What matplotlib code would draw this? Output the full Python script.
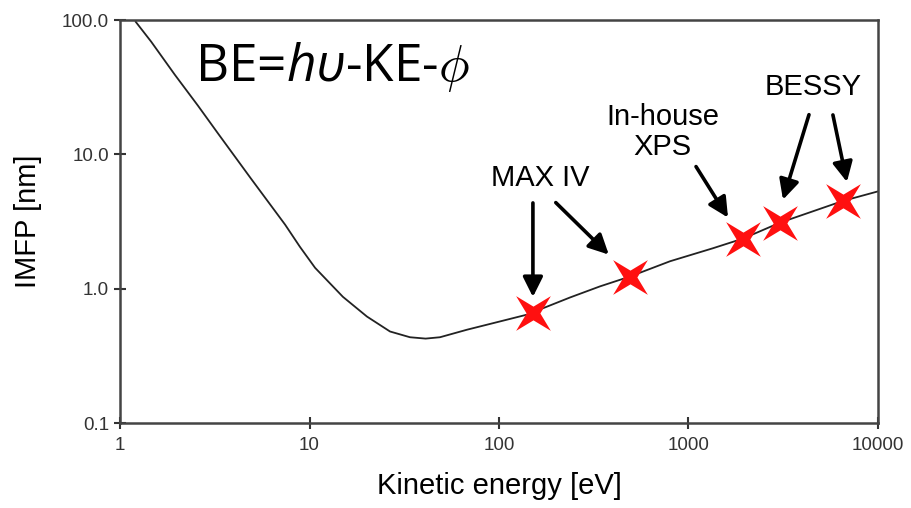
import numpy as np
import matplotlib.pyplot as plt
from matplotlib.path import Path
from matplotlib.transforms import Affine2D, offset_copy

# curva IMFP
ke_curve = [1.21, 1.46, 1.95, 2.58, 3.29, 4.91, 7.43, 8.9, 10.7, 15.0, 20.1, 26.6,
            33.9, 41, 48.8, 67.8, 101, 140, 237, 341, 490, 799, 1346, 1940, 3040, 6530, 10000]
imfp_curve = [97, 69, 39, 23, 14.3, 6.6, 3.0, 2.05, 1.43, 0.87, 0.62, 0.48,
              0.435, 0.425, 0.435, 0.495, 0.57, 0.64, 0.86, 1.04, 1.23, 1.6, 2.0, 2.36, 3.1, 4.5, 5.3]

# puntos marcados (estrellas)
ke_stars = [151, 490, 1940, 3040, 6530]
imfp_stars = [0.66, 1.23, 2.36, 3.1, 4.5]

xticks = [1, 10, 100, 1000, 10000]
xtick_labels = ['1', '10', '100', '1000', '10000']
yticks = [0.1, 1, 10, 100]
ytick_labels = ['0.1', '1.0', '10.0', '100.0']

# flechas: (indice estrella, punta dx, dy, cola dx, dy) en pixeles
arrows = [(0, 0, 16, 0, 110),
          (1, -21, 22, -74, 74),
          (2, -15, 21, -47, 72),
          (3, 3, 23, 29, 108),
          (4, 4, 19, -10, 86)]

plt.rcParams['font.family'] = ['Liberation Sans', 'DejaVu Sans']
plt.rcParams['mathtext.fontset'] = 'custom'
plt.rcParams['mathtext.rm'] = 'Open Sans'
plt.rcParams['mathtext.it'] = 'Open Sans:italic'

fig = plt.figure(figsize=(9.12, 5.08), dpi=100)
ax = fig.add_axes([0.1316, 0.1673, 0.8311, 0.7933])

ax.plot(ke_curve, imfp_curve, color='#222222', lw=1.3)

star = Path.unit_regular_star(4, innerCircle=0.28).transformed(Affine2D().rotate_deg(45))
ax.plot(ke_stars, imfp_stars, linestyle='none', marker=star, markersize=25,
        color='#ff1010', markeredgewidth=0, zorder=4)

ax.set_xscale('log')
ax.set_yscale('log')
ax.set_xlim(1, 10000)
ax.set_ylim(0.1, 100)
ax.set_xticks(xticks)
ax.set_xticklabels(xtick_labels)
ax.set_yticks(yticks)
ax.set_yticklabels(ytick_labels)
ax.minorticks_off()
ax.tick_params(direction='inout', length=8, width=1.5, color='#333333',
               labelsize=13.5, labelcolor='#333333', pad=6)
ax.tick_params(axis='y', pad=4)
for s in ax.spines.values():
    s.set_color('#444444')
    s.set_linewidth(1.8)

ax.set_xlabel('Kinetic energy [eV]', fontsize=21, labelpad=13)
ax.set_ylabel('IMFP [nm]', fontsize=21, labelpad=14)

# flechas hacia las estrellas
for i, tdx, tdy, cdx, cdy in arrows:
    tip = offset_copy(ax.transData, fig=fig, x=tdx, y=tdy, units='dots')
    tail = offset_copy(ax.transData, fig=fig, x=cdx, y=cdy, units='dots')
    ax.annotate('', xy=(ke_stars[i], imfp_stars[i]), xycoords=tip,
                xytext=(ke_stars[i], imfp_stars[i]), textcoords=tail,
                arrowprops=dict(arrowstyle='-|>', color='black', lw=2.6,
                                mutation_scale=30, shrinkA=0, shrinkB=0))

ax.text(0.554, 0.608, 'MAX IV', transform=ax.transAxes, fontsize=21,
        ha='center', va='center')
ax.text(0.716, 0.722, 'In-house\nXPS', transform=ax.transAxes, fontsize=21,
        ha='center', va='center', linespacing=1.05)
ax.text(0.914, 0.834, 'BESSY', transform=ax.transAxes, fontsize=21,
        ha='center', va='center')

ax.text(0.099, 0.883, r'BE=$h\upsilon$-KE-$\phi$', transform=ax.transAxes,
        fontsize=37, family='Open Sans', ha='left', va='center')

fig.savefig('out.png', dpi=100)
